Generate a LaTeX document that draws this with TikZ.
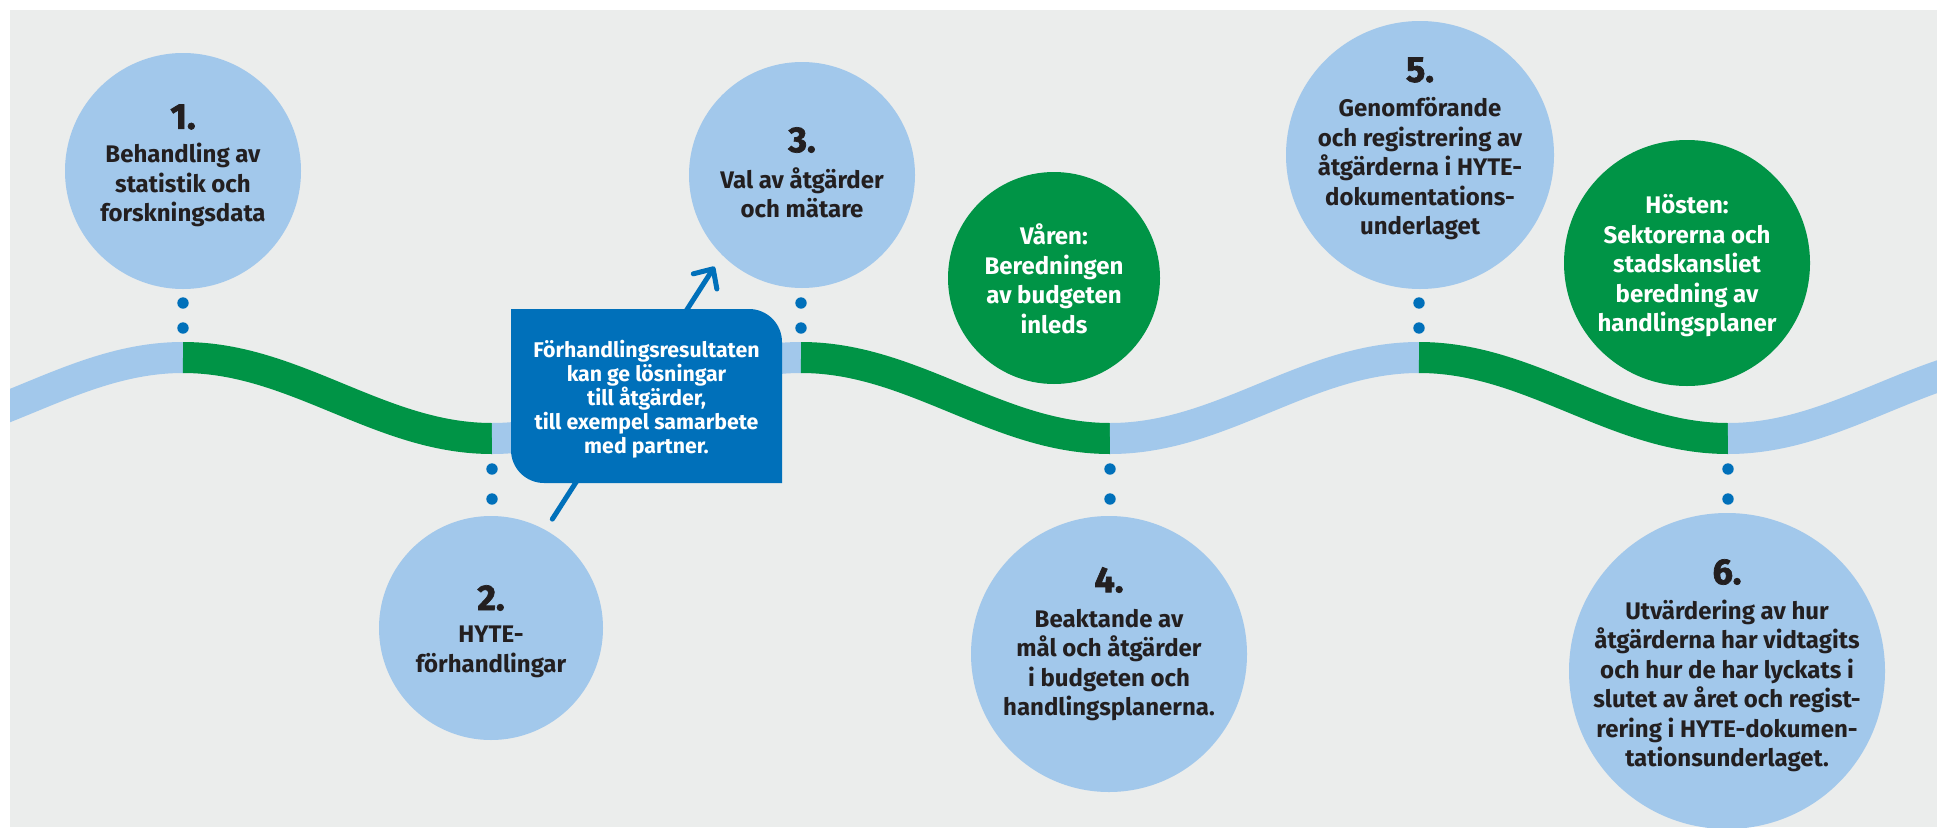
\documentclass[tikz,border=0pt]{standalone}
\usepackage{fontspec}
\setmainfont{Fira Sans}
\newfontfamily\numfam{Fira Sans}[BoldFeatures={FakeBold=2}]
\usetikzlibrary{arrows.meta}
\definecolor{bg}{RGB}{235,237,236}
\definecolor{lblue}{RGB}{162,200,235}
\definecolor{dgreen}{RGB}{0,148,70}
\definecolor{dblue}{RGB}{0,112,186}
\definecolor{ink}{RGB}{35,31,32}
\begin{document}
\begin{tikzpicture}[x=1pt,y=-1pt,
  circ/.style={circle, fill=lblue, inner sep=0pt, outer sep=0pt, minimum size=#1},
  gcirc/.style={circle, fill=dgreen, inner sep=0pt, outer sep=0pt, minimum size=#1},
  numtxt/.style={font=\numfam\fontsize{36}{40}\selectfont\bfseries, text=ink, inner sep=0pt},
  ctxt/.style={font=\fontsize{24}{29.5}\selectfont\bfseries, text=ink, align=center, inner sep=0pt},
  gtxt/.style={ctxt, text=white},
  btxt/.style={font=\fontsize{21.3}{24}\selectfont\bfseries, text=white, align=center, inner sep=0pt},
  dot/.style={circle, fill=dblue, inner sep=0pt, outer sep=0pt, minimum size=11.4pt},
  wave/.style={line width=31pt, line cap=butt},
]
\useasboundingbox (0,0) rectangle (1937,827);
\fill[white] (0,0) rectangle (1937,827);
\fill[bg] (10,10) rectangle (1937,827);

% wave
\begin{scope}
\clip (10,10) rectangle (1937,827);
\draw[wave, lblue] plot[domain=-20:183, samples=60] (\x, {398-40.5*cos((\x-183)*0.58252)});
\draw[wave, dgreen] plot[domain=183:492, samples=80] (\x, {398-40.5*cos((\x-183)*0.58252)});
\draw[wave, lblue] plot[domain=492:801, samples=80] (\x, {398-40.5*cos((\x-183)*0.58252)});
\draw[wave, dgreen] plot[domain=801:1110, samples=80] (\x, {398-40.5*cos((\x-183)*0.58252)});
\draw[wave, lblue] plot[domain=1110:1419, samples=80] (\x, {398-40.5*cos((\x-183)*0.58252)});
\draw[wave, dgreen] plot[domain=1419:1728, samples=80] (\x, {398-40.5*cos((\x-183)*0.58252)});
\draw[wave, lblue] plot[domain=1728:1960, samples=60] (\x, {398-40.5*cos((\x-183)*0.58252)});
\end{scope}

% dots
\node[dot] (d1a) at (183,303) {};
\node[dot] (d1b) at (183,328) {};
\node[dot] (d3a) at (801,303) {};
\node[dot] (d3b) at (801,328) {};
\node[dot] (d5a) at (1419,303) {};
\node[dot] (d5b) at (1419,328) {};
\node[dot] (d2a) at (492,469) {};
\node[dot] (d2b) at (492,499) {};
\node[dot] (d4a) at (1110,469) {};
\node[dot] (d4b) at (1110,499) {};
\node[dot] (d6a) at (1728,469) {};
\node[dot] (d6b) at (1728,499) {};

% circles
\node[circ=236pt] (c1) at (183,171) {};
\node[circ=224pt] (c2) at (491,628) {};
\node[circ=226pt] (c3) at (802,175) {};
\node[circ=276pt] (c4) at (1109,654) {};
\node[circ=268pt] (c5) at (1420,155) {};
\node[circ=316pt] (c6) at (1727,671) {};
\node[gcirc=212pt] (vaaren) at (1054,278) {};
\node[gcirc=246pt] (hoesten) at (1687,263) {};

% arrow
\draw[dblue, line width=5pt, line cap=round, -{Straight Barb[length=15pt,width=28pt,round]},
  shorten <=13pt, shorten >=14pt] (c2.61) -- (c3.225);

% box
\fill[dblue] (511,309) -- (749,309) arc[start angle=-90, end angle=0, radius=33]
  -- (782,483) -- (544,483) arc[start angle=90, end angle=180, radius=33] -- cycle;
\node[btxt] (box) at (646.5,399) {Förhandlingsresultaten\\kan ge lösningar\\till åtgärder,\\till exempel samarbete\\med partner.};

% numbers
\node[numtxt] (n1) at (183,117) {1.};
\node[numtxt] (n2) at (491,598) {2.};
\node[numtxt] (n3) at (802,140) {3.};
\node[numtxt] (n4) at (1109,580) {4.};
\node[numtxt] (n5) at (1420,70) {5.};
\node[numtxt] (n6) at (1727,572) {6.};

% texts
\node[ctxt] (t1) at (183,185) {Behandling av\\statistik och\\forskningsdata};
\node[ctxt] (t2) at (491,652) {HYTE-\\förhandlingar};
\node[ctxt] (t3) at (802,193) {Val av åtgärder\\och mätare};
\node[ctxt] (t4) at (1109,665) {Beaktande av\\mål och åtgärder\\i budgeten och\\handlingsplanerna.};
\node[ctxt] (t5) at (1420,169) {Genomförande\\och registrering av\\åtgärderna i HYTE-\\dokumentations-\\underlaget};
\node[ctxt] (t6) at (1727,686) {Utvärdering av hur\\åtgärderna har vidtagits\\och hur de har lyckats i\\slutet av året och regist-\\rering i HYTE-dokumen-\\tationsunderlaget.};
\node[gtxt] (tv) at (1054,279) {Våren:\\Beredningen\\av budgeten\\inleds};
\node[gtxt] (th) at (1687,266) {Hösten:\\Sektorerna och\\stadskansliet\\beredning av\\handlingsplaner};
\end{tikzpicture}
\end{document}
